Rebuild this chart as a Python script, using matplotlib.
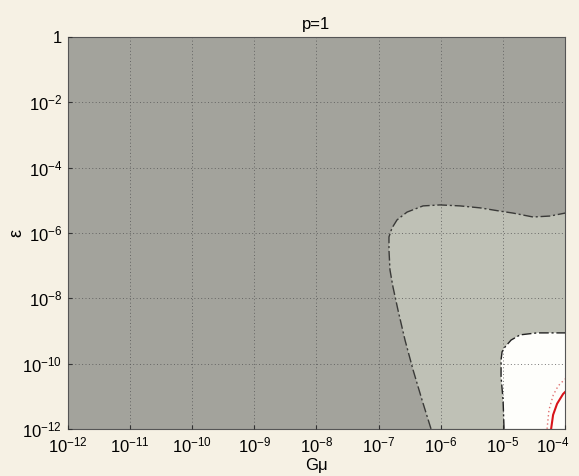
import matplotlib
matplotlib.use("Agg")
import matplotlib.pyplot as plt
import matplotlib.transforms as mtransforms
import numpy as np

plt.rcParams['font.family'] = ['Liberation Sans', 'DejaVu Sans']
plt.rcParams['mathtext.default'] = 'regular'

# exponents: log10(G mu), log10(epsilon)
light_logGmu = [-6.157, -6.302, -6.446, -6.575, -6.688, -6.769, -6.817, -6.833, -6.833, -6.785,
                -6.704, -6.543, -6.285, -6.012, -5.690, -5.368, -5.046, -4.837, -4.515, -4.241, -4.0]
light_logeps = [-12.0, -11.11, -10.19, -9.28, -8.36, -7.65, -7.13, -6.52, -6.12, -5.85,
                -5.60, -5.36, -5.17, -5.14, -5.17, -5.23, -5.33, -5.39, -5.51, -5.48, -5.39]

white_logGmu = [-4.982, -4.998, -5.030, -5.030, -5.014, -4.966, -4.869, -4.724, -4.450, -4.0]
white_logeps = [-12.0, -11.11, -10.41, -9.89, -9.64, -9.49, -9.28, -9.12, -9.06, -9.06]

red_logGmu = [-4.225, -4.193, -4.129, -4.032, -4.0]
red_logeps = [-12.0, -11.57, -11.23, -10.93, -10.87]

reddot_logGmu = [-4.29, -4.26, -4.19, -4.11, -4.0]
reddot_logeps = [-12.0, -11.42, -10.96, -10.68, -10.47]

xticks = [1e-12, 1e-11, 1e-10, 1e-9, 1e-8, 1e-7, 1e-6, 1e-5, 1e-4]
yticks = [1e-12, 1e-10, 1e-8, 1e-6, 1e-4, 1e-2, 1]
xlabels = ['$10^{-%d}$' % k for k in range(12, 3, -1)]
ylabels = ['$10^{-12}$', '$10^{-10}$', '$10^{-8}$', '$10^{-6}$', '$10^{-4}$', '$10^{-2}$', '1']

bg = '#f6f1e4'
fig = plt.figure(figsize=(5.79, 4.76), dpi=100, facecolor=bg)
ax = fig.add_axes([0.117, 0.099, 0.859, 0.823])
ax.set_xscale('log')
ax.set_yscale('log')
ax.set_xlim(1e-12, 1e-4)
ax.set_ylim(1e-12, 1)
ax.set_facecolor('#a3a39c')

lx = 10.0 ** np.array(light_logGmu)
ly = 10.0 ** np.array(light_logeps)
ax.fill(np.r_[lx, 1e-4], np.r_[ly, 1e-12], color='#bfc1b6', zorder=1, lw=0)
ax.plot(lx, ly, color='#3a3a38', lw=1.0, ls=(0, (7, 2, 1.5, 2)), zorder=3)

wx = 10.0 ** np.array(white_logGmu)
wy = 10.0 ** np.array(white_logeps)
ax.fill(np.r_[wx, 1e-4], np.r_[wy, 1e-12], color='#fefefb', zorder=2, lw=0)
ax.plot(wx, wy, color='#222222', lw=1.0, ls=(0, (7, 2, 1.5, 2)), zorder=3)

ax.plot(10.0 ** np.array(red_logGmu), 10.0 ** np.array(red_logeps), color='#d8141a', lw=1.5, zorder=4)
ax.plot(10.0 ** np.array(reddot_logGmu), 10.0 ** np.array(reddot_logeps), color='#e07070', lw=1.0,
        ls=(0, (1, 2)), zorder=4)

ax.set_xticks(xticks)
ax.set_xticklabels(xlabels)
ax.set_yticks(yticks)
ax.set_yticklabels(ylabels)
ax.minorticks_off()
ax.grid(True, color='#555555', ls=(0, (1, 2.5)), lw=0.7, alpha=0.8)
ax.set_axisbelow(False)
for s in ax.spines.values():
    s.set_color('#555555')
    s.set_linewidth(0.8)
ax.tick_params(direction='in', length=3, color='#333333', labelsize=12, pad=4)
ax.tick_params(axis='x', pad=5)

# keep the last x label inside the figure, as in the original
last = ax.get_xticklabels()[-1]
last.set_transform(last.get_transform() + mtransforms.ScaledTranslation(-9 / 72, 0, fig.dpi_scale_trans))

ax.set_xlabel(r'G$\mu$', fontsize=12, labelpad=0)
ax.set_ylabel(r'$\epsilon$', fontsize=13, rotation=90, labelpad=-3)
ax.set_title('p=1', fontsize=12, pad=6)

fig.savefig('out.png', dpi=100, facecolor=bg)
